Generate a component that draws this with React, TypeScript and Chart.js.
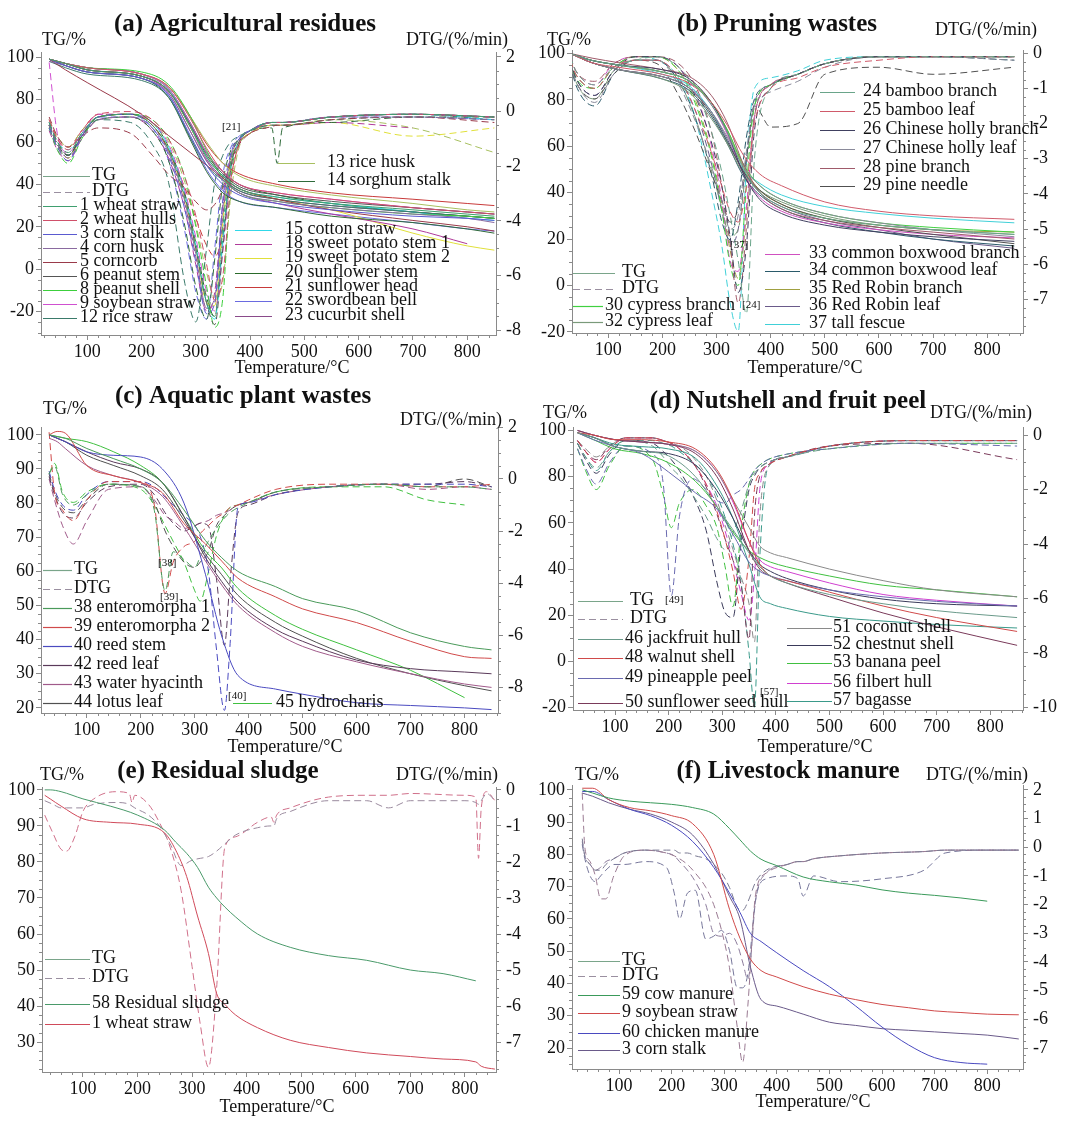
import React, { useEffect, useRef } from "react";
import { Chart, registerables } from "chart.js";
Chart.register(...registerables);

// ================= DATA =================
// (a) Agricultural residues
const A_TG_T = [30, 60, 100, 200, 250, 290, 320, 350, 380, 450, 550, 700, 800, 850];
const A_DTG_T = [30, 45, 65, 90, 120, 180, 220, 250, 280, 300, 320, 335, 350, 365, 380, 400, 440, 450, 460, 550, 700, 850];
const A_LABELS = ["1 wheat straw", "2 wheat hulls", "3 corn stalk", "4 corn husk", "5 corncorb", "6 peanut stem", "8 peanut shell", "9 soybean straw", "12 rice straw", "13 rice husk", "14 sorghum stalk", "15 cotton straw", "18 sweet potato stem 1", "19 sweet potato stem 2", "20 sunflower stem", "21 sunflower head", "22 swordbean bell", "23 cucurbit shell"];
const A_TG = [
  [99, 97, 94, 91, 84, 67, 53, 44, 38, 34, 31, 28, 26, 25],
  [99, 97, 95, 92, 86, 71, 57, 46, 40, 36, 33, 29, 27, 26],
  [99, 96, 93, 90, 82, 63, 49, 40, 35, 31, 28, 25, 24, 23],
  [98, 96, 93, 90, 83, 65, 51, 42, 36, 32, 29, 26, 24, 22],
  [99, 94, 88, 73, 63, 55, 49, 43, 38, 33, 28, 23, 20, 18],
  [99, 97, 94, 91, 84, 68, 54, 45, 39, 35, 32, 29, 27, 26],
  [99, 97, 95, 93, 87, 72, 56, 43, 36, 32, 29, 26, 25, 24],
  [99, 97, 95, 92, 85, 69, 55, 46, 40, 36, 33, 29, 27, 26],
  [98, 95, 92, 89, 81, 62, 49, 42, 37, 33, 30, 27, 25, 24],
  [99, 97, 95, 92, 86, 72, 60, 50, 44, 39, 35, 31, 28, 27],
  [99, 96, 93, 90, 81, 61, 46, 36, 32, 29, 25, 22, 19, 17],
  [99, 97, 95, 92, 85, 68, 53, 44, 38, 34, 31, 27, 24, 23],
  [99, 97, 94, 91, 83, 65, 51, 42, 36, 31, 26, 19, 12, null],
  [99, 97, 94, 91, 84, 67, 53, 44, 38, 33, 28, 17, 11, 9],
  [99, 97, 95, 92, 85, 69, 55, 46, 40, 35, 31, 27, 25, 24],
  [99, 97, 95, 92, 86, 72, 59, 50, 45, 40, 36, 33, 31, 30],
  [99, 96, 93, 90, 82, 62, 47, 37, 32, 29, 26, 22, 19, 18],
  [99, 97, 94, 91, 84, 67, 52, 43, 37, 33, 30, 27, 25, 24],
];
const A_DTG = [
  [-0.4, -1.1, -1.5, -0.8, -0.2, -0.1, -0.5, -1.4, -3.2, -5.0, -7.0, -7.5, -4.2, -1.8, -1.0, -0.7, -0.4, -0.4, -0.4, -0.2, -0.1, -0.2],
  [-0.3, -1.0, -1.4, -0.7, -0.1, 0.0, -0.3, -1.0, -2.4, -3.8, -5.6, -6.9, -6.0, -2.6, -1.2, -0.8, -0.4, -0.4, -0.4, -0.2, -0.1, -0.2],
  [-0.6, -1.3, -1.8, -0.9, -0.2, -0.1, -0.6, -1.6, -3.6, -5.5, -7.4, -7.0, -3.2, -1.5, -1.0, -0.7, -0.4, -0.4, -0.4, -0.2, -0.1, -0.2],
  [-0.5, -1.2, -1.7, -1.0, -0.3, -0.2, -0.6, -1.5, -3.3, -5.2, -7.2, -6.8, -3.5, -1.6, -1.0, -0.7, -0.4, -0.4, -0.4, -0.2, -0.2, -0.3],
  [-0.2, -0.9, -1.3, -0.9, -0.6, -0.8, -1.6, -2.3, -2.8, -3.3, -3.6, -3.4, -2.8, -1.8, -1.2, -0.8, -0.55, -0.5, -0.5, -0.3, -0.2, -0.4],
  [-0.4, -1.1, -1.6, -0.9, -0.2, -0.1, -0.5, -1.4, -3.1, -5.0, -7.0, -7.8, -5.0, -2.0, -1.1, -0.7, -0.4, -0.4, -0.4, -0.2, -0.1, -0.2],
  [-0.6, -1.4, -1.9, -1.0, -0.2, -0.1, -0.3, -1.0, -2.4, -4.2, -6.4, -7.9, -6.8, -2.4, -1.2, -0.8, -0.4, -0.4, -0.4, -0.2, -0.1, -0.2],
  [1.8, -0.8, -1.5, -0.8, -0.1, -0.1, -0.4, -1.2, -2.9, -4.6, -6.6, -7.3, -5.1, -2.2, -1.1, -0.7, -0.4, -0.4, -0.4, -0.2, -0.1, -0.2],
  [-0.6, -1.3, -1.6, -0.9, -0.3, -0.4, -1.2, -2.6, -6.3, -7.7, -5.0, -2.6, -1.6, -1.1, -0.9, -0.7, -0.5, -0.5, -0.5, -0.3, -0.2, -0.3],
  [-0.3, -0.9, -1.3, -0.7, -0.2, -0.1, -0.4, -1.1, -2.6, -4.1, -5.9, -6.8, -6.2, -3.0, -1.3, -0.8, -0.5, -0.5, -0.5, -0.3, -0.6, -1.5],
  [-0.5, -1.2, -1.6, -0.9, -0.3, -0.2, -0.7, -1.8, -4.2, -6.4, -7.6, -5.4, -2.6, -1.4, -1.0, -0.7, -0.6, -1.9, -0.6, -0.4, -0.2, -0.2],
  [-0.4, -1.1, -1.4, -0.8, -0.2, -0.1, -0.4, -1.3, -3.0, -4.9, -7.0, -7.6, -4.8, -2.0, -1.1, -0.7, -0.4, -0.4, -0.4, -0.2, -0.1, -0.3],
  [-0.7, -1.4, -1.8, -1.0, -0.3, -0.2, -0.7, -1.7, -3.6, -5.6, -7.3, -6.6, -3.4, -1.6, -1.0, -0.7, -0.5, -0.5, -0.5, -0.4, -0.6, null],
  [-0.6, -1.3, -1.7, -0.9, -0.2, -0.1, -0.5, -1.4, -3.2, -5.0, -7.0, -7.1, -4.0, -1.8, -1.1, -0.8, -0.5, -0.5, -0.5, -0.4, -0.9, -0.6],
  [-0.5, -1.2, -1.6, -0.8, -0.2, -0.1, -0.4, -1.3, -3.0, -4.8, -6.8, -7.5, -4.6, -2.0, -1.1, -0.7, -0.4, -0.4, -0.4, -0.2, -0.1, -0.2],
  [-0.3, -1.0, -1.3, -0.7, -0.1, -0.1, -0.5, -1.4, -2.8, -3.9, -4.9, -5.3, -4.5, -2.4, -1.2, -0.8, -0.4, -0.4, -0.4, -0.2, -0.1, -0.2],
  [-0.5, -1.2, -1.6, -0.9, -0.2, -0.2, -0.6, -1.8, -4.4, -6.6, -7.6, -5.0, -2.3, -1.3, -0.9, -0.7, -0.4, -0.4, -0.4, -0.2, -0.2, -0.3],
  [-0.5, -1.2, -1.7, -0.9, -0.2, -0.1, -0.5, -1.5, -3.4, -5.3, -7.2, -7.0, -3.8, -1.7, -1.0, -0.7, -0.4, -0.4, -0.4, -0.2, -0.1, -0.3],
];

// (b) Pruning wastes
const B_TG_T = [30, 70, 120, 200, 250, 290, 320, 350, 380, 420, 500, 600, 700, 850];
const B_DTG_T = [30, 40, 75, 110, 150, 190, 230, 260, 290, 310, 325, 340, 355, 370, 400, 450, 500, 600, 700, 850];
const B_LABELS = ["24 bamboo branch", "25 bamboo leaf", "26 Chinese holly branch", "27 Chinese holly leaf", "28 pine branch", "29 pine needle", "30 cypress branch", "32 cypress leaf", "33 common boxwood branch", "34 common boxwood leaf", "35 Red Robin branch", "36 Red Robin leaf", "37 tall fescue"];
const B_TG = [
  [100, 97, 95, 92, 88, 78, 66, 50, 40, 34, 29, 26, 24, 22],
  [100, 96, 94, 91, 87, 79, 69, 56, 48, 43, 36, 32, 30, 28.5],
  [100, 97, 95, 93, 89, 79, 66, 48, 37, 31, 26, 23, 21, 19],
  [100, 96, 93, 90, 85, 75, 64, 51, 43, 37, 31, 27, 24, 21],
  [100, 98, 96, 93, 90, 82, 70, 52, 40, 33, 28, 25, 23, 20],
  [100, 96, 93, 90, 85, 74, 62, 49, 41, 35, 29, 25, 22, 18],
  [100, 97, 95, 92, 88, 79, 67, 52, 43, 37, 31, 27, 25, 23],
  [100, 96, 93, 89, 83, 72, 61, 48, 41, 36, 30, 26, 24, 22],
  [100, 97, 95, 92, 88, 78, 65, 48, 38, 32, 27, 24, 22, 20.5],
  [100, 96, 93, 89, 84, 73, 61, 47, 39, 33, 27, 23, 20, 17],
  [100, 97, 95, 92, 88, 79, 67, 51, 41, 35, 29, 26, 24, 23],
  [100, 96, 93, 90, 85, 75, 63, 49, 40, 34, 28, 24, 20, 16],
  [100, 97, 95, 91, 86, 75, 62, 50, 44, 39, 34, 31, 29, 27],
];
const B_DTG = [
  [-0.1, -0.5, -0.9, -0.4, -0.2, -0.1, -0.4, -1.0, -2.2, -3.4, -4.6, -5.9, -7.4, -3.0, -1.0, -0.6, -0.3, -0.1, -0.1, -0.1],
  [-0.2, -0.6, -1.0, -0.4, -0.2, -0.2, -0.7, -1.6, -2.8, -3.8, -4.5, -4.8, -3.8, -2.0, -1.0, -0.7, -0.4, -0.2, -0.1, -0.1],
  [-0.2, -0.7, -1.2, -0.5, -0.1, -0.1, -0.4, -1.2, -2.5, -3.8, -5.2, -6.8, -5.5, -2.2, -1.0, -0.6, -0.3, -0.1, -0.1, -0.1],
  [-0.3, -0.8, -1.4, -0.6, -0.2, -0.2, -0.9, -1.9, -3.2, -4.2, -5.0, -4.6, -2.8, -1.5, -1.1, -0.8, -0.4, -0.1, -0.1, -0.2],
  [-0.1, -0.5, -0.8, -0.3, -0.1, -0.1, -0.3, -0.9, -2.2, -3.8, -5.4, -7.1, -5.0, -1.8, -0.9, -0.6, -0.3, -0.1, -0.1, -0.1],
  [-0.3, -0.8, -1.3, -0.6, -0.2, -0.3, -1.2, -2.2, -3.4, -4.2, -4.8, -4.4, -3.0, -1.5, -2.1, -2.0, -0.6, -0.4, -0.6, -0.4],
  [-0.2, -0.7, -1.0, -0.4, -0.1, -0.1, -0.5, -1.4, -2.9, -4.5, -6.0, -6.6, -3.8, -1.5, -0.9, -0.6, -0.3, -0.1, -0.1, -0.1],
  [-0.2, -0.8, -1.3, -0.5, -0.2, -0.2, -0.8, -1.8, -3.3, -4.4, -5.2, -5.0, -3.2, -1.5, -0.9, -0.6, -0.3, -0.1, -0.1, -0.1],
  [-0.1, -0.5, -0.9, -0.3, -0.1, -0.1, -0.4, -1.1, -2.6, -4.2, -5.9, -6.2, -4.4, -1.8, -0.9, -0.6, -0.3, -0.1, -0.1, -0.1],
  [-0.3, -0.9, -1.5, -0.6, -0.2, -0.2, -0.8, -1.8, -3.4, -4.8, -5.3, -4.2, -2.4, -1.3, -0.9, -0.6, -0.3, -0.1, -0.1, -0.2],
  [-0.2, -0.6, -1.0, -0.4, -0.1, -0.1, -0.5, -1.3, -2.8, -4.3, -5.6, -6.4, -4.6, -1.8, -0.9, -0.6, -0.3, -0.1, -0.1, -0.1],
  [-0.2, -0.7, -1.2, -0.5, -0.2, -0.2, -0.7, -1.6, -3.1, -4.5, -5.4, -5.0, -3.0, -1.4, -0.9, -0.6, -0.3, -0.1, -0.1, -0.1],
  [-0.2, -0.6, -1.0, -0.4, -0.1, -0.2, -0.7, -1.8, -3.9, -5.5, -7.1, -7.9, -3.2, -1.0, -0.7, -0.5, -0.2, -0.1, -0.1, -0.1],
];

// (c) Aquatic plant wastes
const C_TG_T = [30, 45, 60, 100, 150, 200, 240, 280, 320, 350, 380, 450, 500, 600, 700, 800, 850];
const C_DTG_T = [30, 40, 55, 75, 100, 140, 200, 225, 245, 260, 280, 300, 310, 325, 340, 355, 365, 380, 400, 450, 550, 650, 730, 800, 850];
const C_LABELS = ["38 enteromorpha 1", "39 enteromorpha 2", "40 reed stem", "42 reed leaf", "43 water hyacinth", "44 lotus leaf", "45 hydrocharis"];
const C_TG = [
  [100, 99.5, 99, 96, 93, 90, 86, 78, 69, 64, 60, 55.5, 52, 48.5, 42, 38, 37],
  [100, 101, 100.5, 91, 88, 86, 83, 74, 68, 63, 58, 52.5, 49, 45, 39.5, 35, 34.5],
  [100, 99, 98, 95, 94, 93.5, 90, 80, 59, 41, 29.5, 25.5, 24, 21.5, 20.7, 20, 19.5],
  [100, 99, 98, 95, 92, 90, 86, 76, 64, 57, 51, 43, 39.5, 34, 31.5, 30.5, 30],
  [99, 98, 96, 91, 88, 86, 82, 73, 63, 56, 50, 42, 38, 33.5, 30, 27, 26],
  [100, 99, 98, 94, 91, 88, 84, 75, 65, 59, 53, 45, 41, 34.5, 30, 26.5, 25],
  [100, 99.5, 99, 98, 95, 91, 86, 76, 66, 61, 55, 47, 43, 37, 31, 23, null],
];
const C_DTG = [
  [0.2, 0.5, -0.6, -1.0, -0.6, -0.2, -0.3, -1.2, -4.3, -2.8, -3.1, -3.4, -3.0, -2.4, -1.9, -1.5, -1.3, -1.1, -0.9, -0.5, -0.3, -0.2, -0.3, -0.3, -0.4],
  [1.8, -0.5, -1.2, -1.6, -0.8, -0.1, -0.1, -1.0, -4.4, -3.2, -2.6, -2.4, -2.1, -1.8, -1.5, -1.3, -1.1, -1.0, -0.8, -0.4, -0.2, -0.2, -0.3, -0.3, -0.2],
  [0.3, -0.4, -1.0, -1.2, -0.6, -0.1, -0.1, -0.3, -0.7, -1.0, -1.4, -1.8, -2.2, -3.5, -6.5, -8.9, -6.5, -1.1, -0.9, -0.6, -0.3, -0.2, -0.2, -0.2, -0.3],
  [0.1, -0.6, -1.3, -1.5, -0.9, -0.3, -0.2, -0.6, -1.3, -1.7, -2.0, -1.8, -1.7, -1.8, -3.8, -6.4, -4.0, -1.3, -1.0, -0.6, -0.3, -0.2, -0.2, -0.1, -0.3],
  [0.0, -0.8, -1.8, -2.5, -1.6, -0.4, -0.3, -0.8, -1.4, -1.6, -1.9, -1.8, -1.7, -1.6, -1.4, -1.3, -1.2, -1.0, -0.9, -0.6, -0.3, -0.2, -0.4, -0.3, -0.4],
  [0.2, -0.5, -1.1, -1.3, -0.8, -0.2, -0.3, -0.9, -2.0, -2.6, -3.2, -3.4, -3.2, -2.8, -1.8, -1.4, -1.2, -1.0, -0.9, -0.5, -0.3, -0.2, -0.3, 0.0, -0.3],
  [0.2, 0.6, -0.5, -0.9, -0.5, -0.2, -0.4, -1.0, -1.8, -2.4, -3.2, -4.3, -4.7, -3.6, -2.2, -1.4, -1.1, -1.0, -0.9, -0.5, -0.3, -0.3, -0.8, -1.0, null],
];

// (d) Nutshell and fruit peel
const D_TG_T = [30, 60, 100, 150, 200, 250, 290, 320, 350, 370, 390, 420, 500, 600, 700, 850];
const D_DTG_T = [30, 45, 65, 90, 120, 170, 190, 205, 220, 245, 270, 290, 305, 320, 335, 350, 360, 370, 385, 420, 500, 650, 850];
const D_LABELS = ["46 jackfruit hull", "48 walnut shell", "49 pineapple peel", "50 sunflower seed hull", "51 coconut shell", "52 chestnut shell", "53 banana peel", "56 filbert hull", "57 bagasse"];
const D_TG = [
  [99, 97, 93, 91, 89, 80, 67, 57, 47, 41, 37, 34, 29, 25, 22, 19],
  [99, 98, 96, 96, 95, 92, 83, 70, 52, 42, 37, 35, 30, 24, 19, 13],
  [99, 96, 93, 90, 82, 73, 66, 55, 43, 39, 37, 35, 31, 28, 26, 24],
  [100, 98, 96, 95, 94, 90, 80, 66, 48, 40, 37, 34, 28, 21, 15, 7],
  [100, 98, 96, 95, 94, 91, 82, 70, 58, 50, 47, 45, 40, 35, 31, 28],
  [99, 97, 93, 91, 90, 85, 74, 62, 48, 42, 39, 36, 31, 27, 25, 24],
  [99, 96, 92, 90, 86, 78, 67, 56, 48, 45, 43, 41, 37, 33, 31, 28],
  [100, 98, 96, 95, 94, 91, 82, 69, 52, 44, 41, 39, 34, 29, 26.5, 24],
  [99, 97, 94, 93, 92, 88, 76, 62, 42, 28, 25, 23, 19.5, 17.5, 16, 14.5],
];
const D_DTG = [
  [-0.3, -0.8, -1.2, -0.6, -0.2, -0.4, -0.8, -1.2, -1.5, -2.2, -3.0, -3.8, -4.2, -3.6, -2.8, -1.8, -1.4, -1.2, -1.0, -0.8, -0.5, -0.3, -0.3],
  [-0.2, -0.6, -1.0, -0.5, -0.1, -0.1, -0.2, -0.3, -0.5, -1.0, -1.8, -2.8, -3.8, -5.0, -6.4, -4.5, -2.0, -1.4, -1.1, -0.8, -0.4, -0.2, -0.2],
  [-0.5, -1.2, -1.8, -1.0, -0.4, -0.7, -1.8, -5.9, -3.0, -1.6, -2.0, -2.4, -2.5, -2.2, -2.0, -1.6, -1.3, -1.1, -0.9, -0.7, -0.5, -0.3, -0.4],
  [-0.2, -0.6, -0.9, -0.4, -0.1, -0.1, -0.2, -0.3, -0.5, -1.0, -1.9, -2.9, -3.8, -4.6, -5.5, -7.5, -3.0, -1.5, -1.1, -0.8, -0.4, -0.3, -0.9],
  [-0.2, -0.5, -0.8, -0.4, -0.1, -0.1, -0.2, -0.3, -0.4, -0.8, -1.5, -2.4, -3.3, -4.2, -5.2, -6.2, -7.6, -3.0, -1.2, -0.8, -0.4, -0.2, -0.2],
  [-0.3, -0.9, -1.4, -0.7, -0.2, -0.3, -0.6, -0.9, -1.3, -2.2, -3.5, -5.4, -6.5, -6.7, -4.0, -2.0, -1.5, -1.2, -1.0, -0.8, -0.4, -0.2, -0.2],
  [-0.5, -1.3, -2.0, -1.1, -0.4, -0.9, -2.2, -3.4, -2.5, -2.0, -2.6, -3.4, -4.8, -6.3, -3.5, -1.8, -1.3, -1.1, -0.9, -0.7, -0.5, -0.3, -0.3],
  [-0.2, -0.6, -1.0, -0.5, -0.1, -0.1, -0.2, -0.3, -0.5, -1.0, -1.8, -2.6, -3.5, -4.6, -5.8, -6.8, -5.2, -2.0, -1.1, -0.8, -0.4, -0.2, -0.2],
  [-0.3, -0.8, -1.3, -0.6, -0.2, -0.2, -0.3, -0.4, -0.6, -1.0, -1.5, -2.2, -3.0, -4.0, -5.4, -8.0, -10.0, -4.5, -1.2, -0.8, -0.4, -0.2, -0.2],
];

// (e) Residual sludge
const E_TG_T = [30, 40, 60, 100, 150, 200, 250, 270, 290, 310, 330, 345, 360, 380, 420, 480, 550, 620, 700, 760, 820, 830, 855];
const E_DTG_T = [30, 45, 60, 70, 85, 100, 120, 160, 185, 190, 195, 220, 240, 260, 280, 300, 315, 330, 345, 360, 380, 420, 445, 450, 455, 480, 550, 620, 660, 700, 800, 820, 825, 830, 840, 855];
const E_LABELS = ["58 Residual sludge", "1 wheat straw"];
const E_TG = [
  [100, 100, 99.5, 97.5, 95.5, 93, 88.8, 85.5, 82.4, 78.5, 73, 70, 67.5, 64.7, 60, 56.3, 54, 52.7, 50, 49, 47, null, null],
  [98.5, 97.5, 95.5, 92, 91, 90.5, 88, 83.3, 76, 65, 54.6, 43.5, 40.5, 37.5, 34, 30.5, 28.5, 27, 26, 25.3, 24.5, 23.3, 22.5],
];
const E_DTG = [
  [-0.3, -0.4, -0.5, -0.5, -0.5, -0.5, -0.4, -0.35, -0.4, -0.45, -0.5, -0.7, -1.0, -1.5, -2.1, -1.95, -1.9, -1.85, -1.7, -1.5, -1.25, -1.05, -1.0, -1.0, -0.8, -0.6, -0.3, -0.3, -0.5, -0.3, -0.3, -0.35, -0.4, -0.3, -0.1, -0.3],
  [-0.7, -1.2, -1.65, -1.7, -1.3, -0.6, -0.25, -0.05, -0.1, -0.35, -0.15, -0.4, -0.9, -1.6, -2.8, -4.9, -6.5, -7.7, -5.5, -1.6, -1.3, -0.9, -0.75, -0.9, -0.7, -0.5, -0.2, -0.15, -0.15, -0.1, -0.15, -0.2, -1.9, -0.5, -0.05, -0.3],
];

// (f) Livestock manure
const F_TG_T = [30, 50, 80, 120, 160, 200, 240, 280, 310, 330, 350, 370, 400, 450, 500, 550, 600, 650, 700, 750, 800, 860];
const F_DTG_T = [30, 35, 45, 55, 65, 75, 90, 110, 150, 190, 205, 215, 230, 245, 265, 280, 295, 310, 325, 335, 345, 360, 380, 420, 440, 450, 470, 520, 600, 680, 720, 800, 860];
const F_LABELS = ["59 cow manure", "9 soybean straw", "60 chicken manure", "3 corn stalk"];
const F_TG = [
  [100, 99, 97.5, 96.5, 96, 95.5, 94.5, 92.5, 88, 84.5, 81, 78.5, 76.5, 73, 71.5, 70.5, 69, 68, 67.3, 66.5, 65.5, null],
  [100.5, 100.5, 97, 94.5, 93.5, 92, 89.5, 80, 63, 54, 47.5, 44, 42, 39, 36.7, 35, 33.5, 32.5, 31.5, 31, 30.5, 30.3],
  [99.5, 99.5, 97, 94, 92, 89, 84, 76, 68, 62, 55.5, 53, 49.5, 44, 39, 33, 26.5, 21, 17, 15.5, 15, null],
  [99, 98, 96, 94, 92.5, 90, 86, 77, 67, 60, 45, 35, 33, 30.5, 28, 27, 26, 25.5, 25, 24.5, 24, 22.8],
];
const F_DTG = [
  [0.3, -0.3, -0.6, -0.8, -0.8, -0.6, -0.4, -0.2, -0.1, -0.1, -0.1, -0.2, -0.2, -0.3, -0.4, -0.6, -0.9, -1.4, -2.1, -2.2, -1.9, -1.2, -0.8, -0.6, -0.5, -0.5, -0.4, -0.3, -0.2, -0.15, -0.1, -0.1, -0.1],
  [1.9, 0.0, -0.5, -1.0, -1.8, -1.8, -1.0, -0.3, -0.1, -0.2, -0.3, -0.4, -0.6, -0.9, -1.4, -2.0, -2.9, -4.2, -6.3, -7.5, -5.5, -1.6, -0.9, -0.6, -0.5, -0.5, -0.4, -0.3, -0.2, -0.15, -0.1, -0.1, -0.1],
  [0.1, -0.4, -1.0, -1.2, -1.0, -0.8, -0.6, -0.6, -0.5, -0.7, -1.6, -2.5, -1.6, -1.5, -3.2, -3.1, -2.9, -3.6, -4.9, -4.9, -4.4, -1.8, -1.1, -1.0, -1.1, -1.7, -1.0, -1.2, -1.1, -0.8, -0.2, -0.1, -0.1],
  [0.2, -0.3, -0.6, -0.8, -0.7, -0.5, -0.4, -0.2, -0.1, -0.2, -0.3, -0.5, -0.8, -1.2, -2.0, -3.0, -3.1, -3.0, -3.4, -4.0, -4.6, -1.8, -0.9, -0.6, -0.5, -0.5, -0.4, -0.3, -0.2, -0.15, -0.1, -0.1, -0.1],
];

// ================= STYLE / LAYOUT =================
const A_COLORS = ["#3f9f6f", "#d0506a", "#5a5ad0", "#8a6aa0", "#9a3a4a", "#555555", "#3ccf3c", "#d050d0", "#3a7a6a", "#a8c060", "#2f6a3a", "#30d8e8", "#b03a9a", "#e0e03a", "#2a6a2a", "#c83a3a", "#6a6ae0", "#8a4a8a"];
const B_COLORS = ["#6aa58a", "#d05a6a", "#404060", "#8a8a9a", "#a05a6a", "#505050", "#40d040", "#7a9a7a", "#d050c0", "#2a5a6a", "#a0a040", "#6a5a8a", "#40d0d8"];
const C_COLORS = ["#4a9a5a", "#d04a4a", "#4a4ac0", "#5a3a5a", "#a05a8a", "#505050", "#40c040"];
const D_COLORS = ["#6a9a8a", "#d04a4a", "#6a6ab0", "#7a3a5a", "#8a8a8a", "#3a3a5a", "#40c040", "#d040d0", "#3a9a8a"];
const E_COLORS = ["#4a9a6a", "#d04a5a"];
const E_DTG_COLORS = ["#9a8a9e", "#d0708a"];
const F_COLORS = ["#3a9a5a", "#d04a4a", "#4a4ac0", "#6a5a8a"];
const F_DTG_COLORS = ["#7a7a92", "#9a7a92", "#76769a", "#8a7a9a"];

const SERIF = '"Liberation Serif", "Times New Roman", Times, serif';
const AXIS = "#8a8a8a";
const TITLE_FONT = `bold 25px ${SERIF}`;
const LABEL_FONT = `18px ${SERIF}`;
const SMALL_FONT = `11px ${SERIF}`;
const TG_LEG = "#7aa58a";
const DTG_LEG = "#9a8fa0";

type TextItem = { t: string; x: number; y: number; align: CanvasTextAlign; font?: string; color?: string };
type LegendBlock = { x1: number; x2: number; tx: number; ys: number[]; items: (number | "TG" | "DTG")[] };
type PanelCfg = {
  key: string;
  box: { left: number; top: number; w: number; h: number };
  plot: { l: number; r: number; t: number; b: number };
  x: [number, number];
  yL: [number, number, number];
  yR: [number, number, number];
  tgT: number[];
  dtgT: number[];
  labels: string[];
  colors: string[];
  dtgColors?: string[];
  tg: (number | null)[][];
  dtg: (number | null)[][];
  texts: TextItem[];
  legend: LegendBlock[];
};

const std = (title: string, tx: number, ty: number, tgx: number, tgy: number, dtx: number, dty: number, xtx: number, xty: number): TextItem[] => [
  { t: title, x: tx, y: ty, align: "center", font: TITLE_FONT },
  { t: "TG/%", x: tgx, y: tgy, align: "left" },
  { t: "DTG/(%/min)", x: dtx, y: dty, align: "right" },
  { t: "Temperature/\u00B0C", x: xtx, y: xty, align: "center" },
];
const idx = (a: number, b: number) => Array.from({ length: b - a + 1 }, (_, i) => a + i);

const PANELS: PanelCfg[] = [
  {
    key: "a", box: { left: 0, top: 0, w: 530, h: 385 }, plot: { l: 41, r: 496, t: 52, b: 335 },
    x: [15, 853], yL: [-31, 102.4, 20], yR: [-8.18, 2.18, 2],
    tgT: A_TG_T, dtgT: A_DTG_T, labels: A_LABELS, colors: A_COLORS, tg: A_TG, dtg: A_DTG,
    texts: [...std("(a) Agricultural residues", 245, 25, 42, 40, 508, 40, 292, 368), { t: "[21]", x: 222, y: 127, align: "left", font: SMALL_FONT }],
    legend: [
      { x1: 43, x2: 90, tx: 92, ys: [175, 191], items: ["TG", "DTG"] },
      { x1: 43, x2: 77, tx: 80, ys: [205, 219, 233, 247, 261, 275, 289, 303, 317], items: idx(0, 8) },
      { x1: 278, x2: 315, tx: 327, ys: [162, 180], items: [9, 10] },
      { x1: 235, x2: 272, tx: 285, ys: [229, 243, 257, 272, 286, 300, 315], items: idx(11, 17) },
    ],
  },
  {
    key: "b", box: { left: 530, top: 0, w: 535, h: 385 }, plot: { l: 42, r: 493, t: 50, b: 333 },
    x: [33, 866], yL: [-20.5, 101.5, 20], yR: [-7.95, 0.09, 1],
    tgT: B_TG_T, dtgT: B_DTG_T, labels: B_LABELS, colors: B_COLORS, tg: B_TG, dtg: B_DTG,
    texts: [...std("(b) Pruning wastes", 247, 25, 17, 40, 507, 30, 275, 368),
      { t: "[37]", x: 200, y: 245, align: "left", font: SMALL_FONT }, { t: "[24]", x: 212, y: 305, align: "left", font: SMALL_FONT }],
    legend: [
      { x1: 290, x2: 325, tx: 333, ys: [91, 110, 129, 148, 167, 185], items: idx(0, 5) },
      { x1: 43, x2: 85, tx: 92, ys: [272, 288], items: ["TG", "DTG"] },
      { x1: 43, x2: 73, tx: 75, ys: [305, 321], items: [6, 7] },
      { x1: 235, x2: 270, tx: 279, ys: [253, 270, 288, 305, 323], items: idx(8, 12) },
    ],
  },
  {
    key: "c", box: { left: 0, top: 370, w: 530, h: 385 }, plot: { l: 41, r: 498, t: 57, b: 343 },
    x: [15, 862], yL: [18.5, 102.3, 10], yR: [-9, 2, 2],
    tgT: C_TG_T, dtgT: C_DTG_T, labels: C_LABELS, colors: C_COLORS, tg: C_TG, dtg: C_DTG,
    texts: [...std("(c) Aquatic plant wastes", 243, 27, 43, 39, 502, 50, 285, 377),
      { t: "[38]", x: 158, y: 193, align: "left", font: SMALL_FONT }, { t: "[39]", x: 160, y: 227, align: "left", font: SMALL_FONT },
      { t: "[40]", x: 228, y: 326, align: "left", font: SMALL_FONT }],
    legend: [
      { x1: 43, x2: 72, tx: 74, ys: [199, 218, 237, 256, 275, 294, 313, 332], items: ["TG", "DTG", 0, 1, 2, 3, 4, 5] },
      { x1: 233, x2: 272, tx: 276, ys: [332], items: [6] },
    ],
  },
  {
    key: "d", box: { left: 530, top: 370, w: 535, h: 385 }, plot: { l: 43, r: 493, t: 57, b: 340 },
    x: [21.6, 861], yL: [-21, 101.5, 20], yR: [-10.1, 0.3, 2],
    tgT: D_TG_T, dtgT: D_DTG_T, labels: D_LABELS, colors: D_COLORS, tg: D_TG, dtg: D_DTG,
    texts: [...std("(d) Nutshell and fruit peel", 258, 32, 13, 43, 502, 43, 285, 377),
      { t: "[49]", x: 135, y: 230, align: "left", font: SMALL_FONT }, { t: "[57]", x: 230, y: 322, align: "left", font: SMALL_FONT }],
    legend: [
      { x1: 48, x2: 93, tx: 100, ys: [230, 248], items: ["TG", "DTG"] },
      { x1: 48, x2: 93, tx: 95, ys: [268, 287, 307, 332], items: [0, 1, 2, 3] },
      { x1: 257, x2: 302, tx: 303, ys: [257, 274, 292, 312, 330], items: [4, 5, 6, 7, 8] },
    ],
  },
  {
    key: "e", box: { left: 0, top: 740, w: 530, h: 384 }, plot: { l: 42, r: 496, t: 47, b: 332 },
    x: [25, 857], yL: [21.7, 100.8, 10], yR: [-7.83, 0.08, 1],
    tgT: E_TG_T, dtgT: E_DTG_T, labels: E_LABELS, colors: E_COLORS, dtgColors: E_DTG_COLORS, tg: E_TG, dtg: E_DTG,
    texts: std("(e) Residual sludge", 218, 32, 40, 35, 498, 35, 277, 367),
    legend: [{ x1: 45, x2: 90, tx: 92, ys: [218, 237, 263, 283], items: ["TG", "DTG", 0, 1] }],
  },
  {
    key: "f", box: { left: 530, top: 740, w: 535, h: 384 }, plot: { l: 42, r: 493, t: 45, b: 329 },
    x: [10.6, 868], yL: [13.5, 101.5, 10], yR: [-7.73, 2.17, 1],
    tgT: F_TG_T, dtgT: F_DTG_T, labels: F_LABELS, colors: F_COLORS, dtgColors: F_DTG_COLORS, tg: F_TG, dtg: F_DTG,
    texts: std("(f) Livestock manure", 258, 32, 45, 35, 498, 35, 283, 362),
    legend: [{ x1: 48, x2: 90, tx: 92, ys: [220, 235, 254, 272, 292, 309], items: ["TG", "DTG", 0, 1, 2, 3] }],
  },
];

function makeOverlay(cfg: PanelCfg) {
  return {
    id: "overlay_" + cfg.key,
    afterDraw(chart: any) {
      const ctx: CanvasRenderingContext2D = chart.ctx;
      const sx = chart.scales.x, sl = chart.scales.yL, sr = chart.scales.yR;
      ctx.save();
      // minor ticks
      ctx.strokeStyle = AXIS;
      ctx.lineWidth = 1;
      ctx.setLineDash([]);
      ctx.beginPath();
      for (let k = Math.ceil(sx.min / 20); k * 20 <= sx.max; k++) {
        if (k % 5 === 0) continue;
        const p = Math.round(sx.getPixelForValue(k * 20)) + 0.5;
        ctx.moveTo(p, sx.top);
        ctx.lineTo(p, sx.top + 3);
      }
      const ls = cfg.yL[2] / 4;
      for (let k = Math.ceil(sl.min / ls); k * ls <= sl.max; k++) {
        if (k % 4 === 0) continue;
        const p = Math.round(sl.getPixelForValue(k * ls)) + 0.5;
        ctx.moveTo(sl.right, p);
        ctx.lineTo(sl.right - 3, p);
      }
      const rs = cfg.yR[2] / 4;
      for (let k = Math.ceil(sr.min / rs); k * rs <= sr.max; k++) {
        if (k % 4 === 0) continue;
        const p = Math.round(sr.getPixelForValue(k * rs)) + 0.5;
        ctx.moveTo(sr.left, p);
        ctx.lineTo(sr.left + 3, p);
      }
      ctx.stroke();
      // texts
      ctx.textBaseline = "middle";
      for (const t of cfg.texts) {
        ctx.font = t.font || LABEL_FONT;
        ctx.fillStyle = t.color || "#111";
        ctx.textAlign = t.align;
        ctx.fillText(t.t, t.x, t.y);
      }
      // legend
      for (const b of cfg.legend) {
        b.items.forEach((it, i) => {
          const y = b.ys[i];
          let color = TG_LEG, dash = false, label = "";
          if (it === "TG") { label = "TG"; }
          else if (it === "DTG") { label = "DTG"; color = DTG_LEG; dash = true; }
          else { label = cfg.labels[it]; color = cfg.colors[it]; }
          ctx.strokeStyle = color;
          ctx.lineWidth = 1.2;
          ctx.setLineDash(dash ? [7, 4] : []);
          ctx.beginPath();
          ctx.moveTo(b.x1, y + 1.5);
          ctx.lineTo(b.x2, y + 1.5);
          ctx.stroke();
          ctx.setLineDash([]);
          ctx.font = LABEL_FONT;
          ctx.fillStyle = "#111";
          ctx.textAlign = "left";
          ctx.fillText(label, b.tx, y);
        });
      }
      ctx.restore();
    },
  };
}

function Panel({ cfg }: { cfg: PanelCfg }) {
  const ref = useRef<HTMLCanvasElement>(null);
  useEffect(() => {
    const canvas = ref.current;
    if (!canvas) return;
    const datasets: any[] = [];
    cfg.tg.forEach((vals, i) => {
      datasets.push({
        label: cfg.labels[i] + " TG",
        data: cfg.tgT.map((x, j) => ({ x, y: vals[j] })),
        yAxisID: "yL",
        borderColor: cfg.colors[i],
        borderWidth: 1,
        pointRadius: 0,
        fill: false,
        cubicInterpolationMode: "monotone",
      });
    });
    cfg.dtg.forEach((vals, i) => {
      datasets.push({
        label: cfg.labels[i] + " DTG",
        data: cfg.dtgT.map((x, j) => ({ x, y: vals[j] })),
        yAxisID: "yR",
        borderColor: (cfg.dtgColors || cfg.colors)[i],
        borderWidth: 1,
        borderDash: [7, 4],
        pointRadius: 0,
        fill: false,
        cubicInterpolationMode: "monotone",
      });
    });
    const tickFont = { family: SERIF, size: 18 };
    const grid = { display: true, drawOnChartArea: false, drawTicks: true, tickLength: 5, color: AXIS };
    const border = { display: true, color: AXIS, width: 1 };
    const chart = new Chart(canvas, {
      type: "line",
      data: { datasets },
      options: {
        animation: false,
        responsive: false,
        maintainAspectRatio: false,
        events: [],
        layout: { padding: { top: cfg.plot.t, left: 0, right: 0, bottom: 0 } },
        plugins: { legend: { display: false }, tooltip: { enabled: false }, title: { display: false } },
        scales: {
          x: {
            type: "linear", position: "bottom", min: cfg.x[0], max: cfg.x[1],
            afterFit: (s: any) => { s.height = cfg.box.h - cfg.plot.b; },
            ticks: { stepSize: 100, includeBounds: false, autoSkip: false, maxRotation: 0, font: tickFont, color: "#111", padding: 1 },
            grid, border,
          },
          yL: {
            type: "linear", position: "left", min: cfg.yL[0], max: cfg.yL[1],
            afterFit: (s: any) => { s.width = cfg.plot.l; },
            ticks: { stepSize: cfg.yL[2], includeBounds: false, autoSkip: false, font: tickFont, color: "#111", padding: 2 },
            grid, border,
          },
          yR: {
            type: "linear", position: "right", min: cfg.yR[0], max: cfg.yR[1],
            afterFit: (s: any) => { s.width = cfg.box.w - cfg.plot.r; },
            ticks: { stepSize: cfg.yR[2], includeBounds: false, autoSkip: false, font: tickFont, color: "#111", padding: 5 },
            grid, border,
          },
        },
      } as any,
      plugins: [makeOverlay(cfg)],
    });
    return () => chart.destroy();
  }, [cfg]);
  return (
    <canvas
      ref={ref}
      width={cfg.box.w}
      height={cfg.box.h}
      style={{ position: "absolute", left: cfg.box.left, top: cfg.box.top, width: cfg.box.w, height: cfg.box.h }}
    />
  );
}

export default function App() {
  useEffect(() => {
    document.documentElement.style.overflow = "hidden";
  }, []);
  return (
    <div style={{ position: "absolute", left: 0, top: 0, width: 1065, height: 1124, background: "#fff", overflow: "hidden" }}>
      {PANELS.map((p) => (
        <Panel key={p.key} cfg={p} />
      ))}
    </div>
  );
}
